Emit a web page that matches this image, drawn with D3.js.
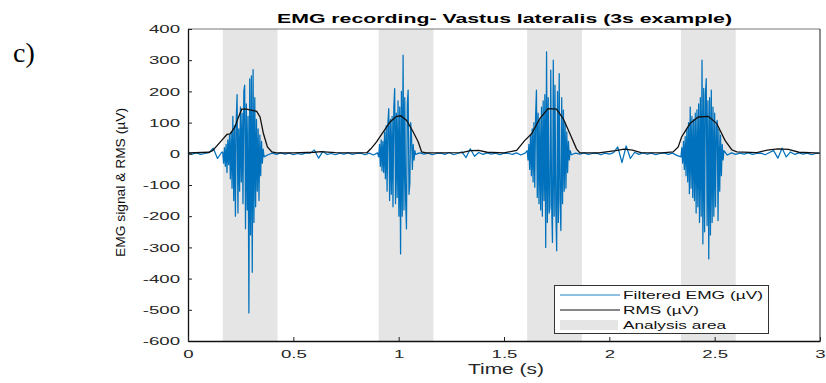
<!DOCTYPE html>
<html><head><meta charset="utf-8">
<script src="https://cdn.jsdelivr.net/npm/d3@7"></script>
<style>body{margin:0;background:#fff}svg{display:block}</style></head>
<body><svg id="chart" width="826" height="383"></svg>
<script>
// ---------- data ----------
const xTicks = [0, 0.5, 1, 1.5, 2, 2.5, 3];
const yTicks = [-600, -500, -400, -300, -200, -100, 0, 100, 200, 300, 400];
const analysisStart = [0.165, 0.905, 1.61, 2.34];
const analysisEnd   = [0.425, 1.165, 1.87, 2.60];
const legendLabels = ["Filtered EMG (\u00B5V)", "RMS (\u00B5V)", "Analysis area"];

// EMG bursts: start times (s) and samples every 4 ms (µV)
const burstStart = [0.165, 0.905, 1.61, 2.34];
const burstStep = 0.004;
const burst1 = [5,-30,20,-40,30,-60,45,-35,60,-80,70,-110,120,-150,90,-200,110,190,-190,80,-120,150,-90,130,-160,200,220,-240,160,-180,120,-510,240,-260,250,-380,270,-220,180,-170,110,-120,80,-150,60,-70,40,-30,15,-10];
const burst2 = [-10,30,-40,45,-55,40,-60,70,-80,90,-120,100,145,-150,110,-130,120,-170,150,209,-160,130,-140,170,-200,150,-321,200,-200,316,-180,180,-150,-241,160,204,-130,-95,100,60,-50,30,-20,10];
const burst3 = [10,-20,30,-50,60,-70,80,-90,100,-107,120,204,-140,130,-160,110,-180,150,-200,170,-150,190,-300,327,-220,180,-190,-171,268,-160,-284,300,-200,220,-180,-311,200,-220,257,-150,-246,180,-160,140,-120,100,-110,70,-60,40,-20,10];
const burst4 = [-10,20,-30,40,-50,55,-70,80,-90,100,-128,150,-110,120,-140,110,-150,130,-190,141,-170,160,-220,180,-200,300,-289,210,-250,190,241,-230,170,-337,180,-260,204,-220,150,-200,130,-170,90,107,-214,80,-120,60,-70,30,-20,10];

// EMG baseline between bursts: samples every 20 ms (µV)
const baselineStep = 0.02;
const baseline = [
  2,-1,3,-2,1,4,18,-15,5,0,
  0,0,0,0,0,0,0,0,0,-3,
  2,-2,3,-1,2,-3,1,-2,3,2,
  12,-14,8,-2,1,-3,2,-1,3,-2,
  1,2,-3,2,-4,3,0,0,0,0,
  0,0,0,0,-2,3,-1,2,-3,1,
  2,-2,4,-3,1,6,-12,16,-8,4,
  -2,3,-1,2,-3,2,1,-2,3,-4,
  2,0,0,0,0,0,0,0,0,0,
  0,-3,2,-1,3,-2,1,2,-3,2,
  -1,4,22,-28,25,-15,5,-2,3,-1,
  2,-3,1,3,-2,2,-5,0,0,0,
  0,0,0,0,0,0,0,0,-4,3,
  -2,2,-1,3,-2,1,2,-3,4,10,
  -14,18,-10,6,-2,3,-1,2,-3,1,
  2];

// RMS envelope
const rmsTime  = [0,0.1,0.118,0.16,0.185,0.2,0.223,0.237,0.255,0.278,0.3,0.326,0.342,0.358,0.377,0.398,0.42,0.5,0.6,0.63,0.7,0.8,0.85,0.868,0.895,0.927,0.959,0.99,1.01,1.038,1.069,1.093,1.109,1.13,1.3,1.34,1.38,1.42,1.5,1.56,1.599,1.631,1.67,1.709,1.749,1.781,1.813,1.844,1.86,1.95,2.03,2.07,2.11,2.15,2.25,2.303,2.327,2.343,2.383,2.422,2.47,2.51,2.549,2.581,2.605,2.7,2.75,2.8,2.85,2.9,3.0];
const rmsValue = [3,5,11,43,62,64,86,113,143,143,140,136,118,65,22,6,3,3,5,7,4,3,4,16,38,70,102,120,122,107,70,38,6,3,4,10,11,5,3,11,43,64,113,145,143,113,64,16,3,3,10,15,12,4,3,6,22,54,97,118,120,97,43,13,6,4,12,16,14,5,2];

// ---------- layout ----------
const svg = d3.select("#chart");
const x = d3.scaleLinear().domain([0, 3]).range([188, 820]);
const y = d3.scaleLinear().domain([-600, 400]).range([341, 29]);
const axisColor = "#262626";
const emgColor = "#0072BD";

// analysis areas
svg.append("g").selectAll("rect").data(analysisStart).join("rect")
  .attr("x", (d) => x(d))
  .attr("width", (d, i) => x(analysisEnd[i]) - x(d))
  .attr("y", y(400)).attr("height", y(-600) - y(400))
  .attr("fill", "#e5e5e5");

// EMG signal
const bursts = [burst1, burst2, burst3, burst4];
const emgPts = [];
baseline.forEach((v, k) => {
  const t = k * baselineStep;
  const inBurst = bursts.some((b, j) => t >= burstStart[j] - 1e-9 && t <= burstStart[j] + (b.length - 1) * burstStep + 1e-9);
  if (!inBurst) emgPts.push([t, v]);
});
bursts.forEach((b, j) => b.forEach((v, i) => emgPts.push([burstStart[j] + i * burstStep, v])));
emgPts.sort((a, b) => a[0] - b[0]);

const line = d3.line().x((d) => x(d[0])).y((d) => y(d[1]));
svg.append("path").datum(emgPts).attr("d", line)
  .attr("fill", "none").attr("stroke", emgColor).attr("stroke-width", 1.25)
  .attr("stroke-linejoin", "round");

// RMS
svg.append("path").datum(rmsTime.map((t, i) => [t, rmsValue[i]])).attr("d", line)
  .attr("fill", "none").attr("stroke", "#111").attr("stroke-width", 1.3);

// box top/right
svg.append("line").attr("x1", x(0)).attr("x2", x(3)).attr("y1", y(400)).attr("y2", y(400))
  .attr("stroke", "#777").attr("stroke-width", 1);
svg.append("line").attr("x1", x(3)).attr("x2", x(3)).attr("y1", y(400)).attr("y2", y(-600))
  .attr("stroke", "#444").attr("stroke-width", 1.2);

// axes
const sx = 1.62;
const yAxis = svg.append("g").attr("transform", `translate(${x(0)},0)`)
  .call(d3.axisLeft(y).tickValues(yTicks).tickFormat((d) => String(d)).tickSizeInner(-4).tickSizeOuter(0).tickPadding(8));
const xAxis = svg.append("g").attr("transform", `translate(0,${y(-600)})`)
  .call(d3.axisBottom(x).tickValues(xTicks).tickFormat((d) => String(d)).tickSizeInner(-4).tickSizeOuter(0).tickPadding(9));
[yAxis, xAxis].forEach((g) => {
  g.select(".domain").attr("stroke", "#111").attr("stroke-width", 1.3);
  g.selectAll(".tick line").attr("stroke", "#222");
  g.selectAll(".tick text").attr("fill", axisColor).attr("font-family", "Liberation Sans, Arial, sans-serif").attr("font-size", 11.5)
    .each(function () {
      const t = d3.select(this);
      const tx = +t.attr("x") || 0;
      t.attr("x", 0).attr("transform", `translate(${tx},0) scale(${sx},1)`);
    });
});

// title
svg.append("text").attr("x", 504.5).attr("y", 22.5).attr("text-anchor", "middle")
  .attr("font-family", "Liberation Sans, Arial, sans-serif").attr("font-weight", "bold").attr("font-size", 13)
  .attr("fill", "#000").attr("textLength", 455).attr("lengthAdjust", "spacingAndGlyphs")
  .text("EMG recording- Vastus lateralis (3s example)");

// x label
svg.append("text").attr("x", 506).attr("y", 373.5).attr("text-anchor", "middle")
  .attr("font-family", "Liberation Sans, Arial, sans-serif").attr("font-size", 14)
  .attr("fill", axisColor).attr("textLength", 76).attr("lengthAdjust", "spacingAndGlyphs")
  .text("Time (s)");

// y label
svg.append("text").attr("transform", "translate(125,182.5) rotate(-90)").attr("text-anchor", "middle")
  .attr("font-family", "Liberation Sans, Arial, sans-serif").attr("font-size", 13.5)
  .attr("fill", "#111").attr("textLength", 149).attr("lengthAdjust", "spacingAndGlyphs")
  .text("EMG signal & RMS (\u00B5V)");

// panel letter
svg.append("text").attr("x", 13).attr("y", 61.5)
  .attr("font-family", "Liberation Serif, Times New Roman, serif").attr("font-size", 28).attr("fill", "#000")
  .text("c)");

// legend
const lg = svg.append("g");
lg.append("rect").attr("x", 554.5).attr("y", 285.5).attr("width", 214).attr("height", 48)
  .attr("fill", "#fff").attr("stroke", "#333").attr("stroke-width", 1);
const rowY = [295, 310, 325];
const legendWidths = [140, 76, 103];
lg.append("line").attr("x1", 560).attr("x2", 620).attr("y1", rowY[0]).attr("y2", rowY[0])
  .attr("stroke", emgColor).attr("stroke-opacity", 0.6).attr("stroke-width", 1.3);
lg.append("line").attr("x1", 560).attr("x2", 620).attr("y1", rowY[1]).attr("y2", rowY[1])
  .attr("stroke", "#111").attr("stroke-width", 1.2);
lg.append("rect").attr("x", 560).attr("y", rowY[2] - 5).attr("width", 58).attr("height", 10).attr("fill", "#e5e5e5");
lg.selectAll("text").data(legendLabels).join("text")
  .attr("x", 623).attr("y", (d, i) => rowY[i] + 4)
  .attr("font-family", "Liberation Sans, Arial, sans-serif").attr("font-size", 11.5)
  .attr("fill", "#111").attr("textLength", (d, i) => legendWidths[i]).attr("lengthAdjust", "spacingAndGlyphs")
  .text((d) => d);
</script></body></html>
